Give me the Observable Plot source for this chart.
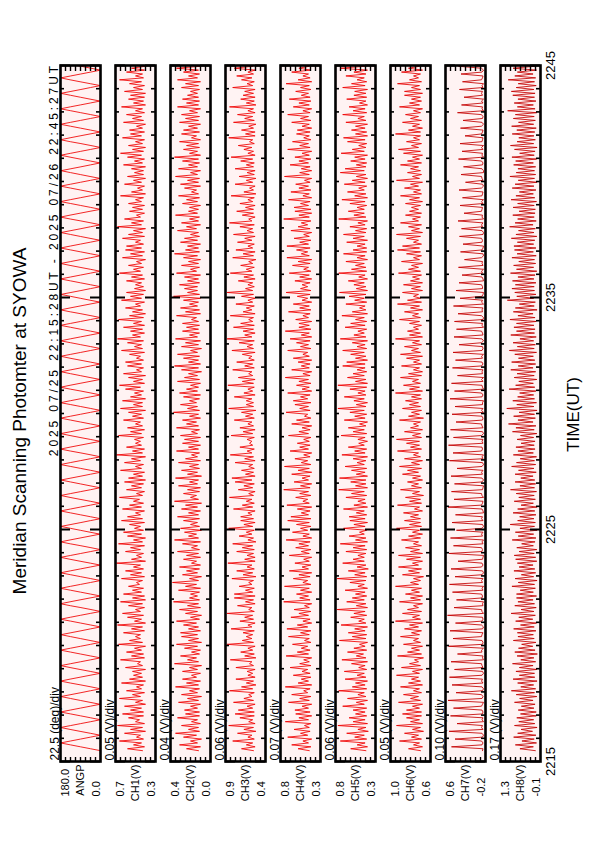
<!DOCTYPE html>
<html><head><meta charset="utf-8">
<script src="https://cdn.jsdelivr.net/npm/d3@7"></script>
<script src="https://cdn.jsdelivr.net/npm/@observablehq/plot@0.6"></script>
<style>
html,body{margin:0;padding:0;width:595px;height:842px;overflow:hidden;background:#fff;}
#land{position:absolute;left:0;top:842px;width:842px;height:595px;transform-origin:0 0;transform:rotate(-90deg);font-family:"Liberation Sans",Arial,Helvetica,sans-serif;}
.panel{position:absolute;left:0;}
#title{position:absolute;left:0;width:842px;top:9px;text-align:center;font-size:19px;color:#000;}
#range{position:absolute;right:63px;top:48px;font-size:12px;line-height:12px;letter-spacing:2.9px;white-space:nowrap;color:#000;}
</style></head><body>
<div id="land"><div id="title">Meridian Scanning Photomter at SYOWA</div><div id="range"></div></div>
<script>
// ---- data ----
const startTime = "2025-07-25T22:15:28Z";
const stepSeconds = 5;
const timeDomain = ["2025-07-25T22:15:00Z", "2025-07-25T22:45:00Z"];
const timeTickLabels = ["2215", "2225", "2235", "2245"];
const rangeText = "2025 07/25 22:15:28UT - 2025 07/26 22:45:27UT";

const names = ["ANGP","CH1(V)","CH2(V)","CH3(V)","CH4(V)","CH5(V)","CH6(V)","CH7(V)","CH8(V)"];
const maxLabels = ["180.0","0.7","0.4","0.9","0.8","0.8","1.0","0.6","1.3"];
const minLabels = ["0.0","0.3","0.0","0.4","0.3","0.3","0.6","-0.2","-0.1"];
const divLabels = ["22.5 (deg)/div","0.05 (V)/div","0.04 (V)/div","0.06 (V)/div","0.07 (V)/div","0.06 (V)/div","0.05 (V)/div","0.10 (V)/div","0.17 (V)/div"];
const lineColors = ["#f00000","#f00000","#f00000","#f00000","#f00000","#f00000","#e60000","#c40000","#c40000"];

const angp = [
0,45,90,135,180,135,90,45, 1,46,92,137,179,134,89,44, 0,44,89,134,180,136,91,46,
2,47,91,135,178,133,88,45, 0,43,88,136,180,137,92,47, 1,46,92,137,179,134,89,44,
0,45,90,135,180,135,90,45, 2,47,91,135,178,133,88,45, 0,44,89,134,180,136,91,46,
0,43,88,136,180,137,92,47, 0,45,90,135,180,135,90,45, 0,44,89,134,180,136,91,46,
1,46,92,137,179,134,89,44, 0,43,88,136,180,137,92,47, 2,47,91,135,178,133,88,45,
0,45,90,135,180,135,90,45, 1,46,92,137,179,134,89,44, 2,47,91,135,178,133,88,45,
0,44,89,134,180,136,91,46, 0,43,88,136,180,137,92,47, 1,46,92,137,179,134,89,44,
0,45,90,135,180,135,90,45, 0,44,89,134,180,136,91,46, 0,43,88,136,180,137,92,47,
2,47,91,135,178,133,88,45, 1,46,92,137,179,134,89,44, 0,44,89,134,180,136,91,46,
0,45,90,135,180,135,90,45, 0,43,88,136,180,137,92,47, 2,47,91,135,178,133,88,45,
0,45,90,135,180,135,90,45, 1,46,92,137,179,134,89,44, 0,44,89,134,180,136,91,46,
2,47,91,135,178,133,88,45, 0,43,88,136,180,137,92,47, 0,44,89,134,180,136,91,46,
0,45,90,135,180,135,90,45, 2,47,91,135,178,133,88,45, 1,46,92,137,179,134,89,44,
0,43,88,136,180,137,92,47, 0,45,90,135,180,135,90,45, 0,44,89,134,180,136,91,46,
2,47,91,135,178,133,88,45, 1,46,92,137,179,134,89,44, 0,43,88,136,180,137,92,47
];
const ch1 = [
.43,.58,.41,.52,.44,.66,.42,.49,.45,.61,.40,.55,.43,.68,.41,.50,.46,.57,.42,.63,
.42,.55,.44,.61,.40,.50,.43,.66,.45,.53,.41,.59,.44,.49,.42,.64,.40,.56,.43,.52,
.44,.53,.40,.60,.43,.48,.45,.65,.41,.54,.42,.59,.44,.51,.40,.67,.43,.56,.45,.50,
.45,.62,.41,.54,.43,.68,.40,.51,.44,.58,.42,.63,.45,.50,.41,.57,.43,.65,.40,.53,
.41,.62,.44,.53,.42,.57,.46,.49,.43,.64,.41,.55,.44,.60,.42,.52,.45,.69,.40,.54,
.44,.49,.42,.60,.45,.55,.41,.67,.43,.52,.40,.58,.44,.62,.42,.51,.45,.56,.41,.64,
.43,.58,.45,.50,.41,.63,.44,.56,.42,.52,.46,.66,.43,.49,.41,.59,.44,.54,.42,.61,
.40,.57,.43,.52,.41,.65,.44,.50,.42,.61,.45,.54,.40,.69,.43,.53,.41,.59,.44,.50,
.45,.51,.42,.67,.44,.55,.41,.58,.43,.50,.45,.62,.42,.53,.44,.57,.40,.65,.43,.52,
.43,.63,.40,.55,.44,.51,.42,.60,.45,.66,.41,.52,.43,.57,.40,.62,.44,.49,.42,.58,
.44,.60,.42,.49,.45,.56,.41,.64,.43,.51,.44,.58,.42,.68,.45,.53,.41,.55,.43,.62,
.41,.52,.44,.67,.42,.56,.40,.53,.43,.60,.45,.50,.41,.64,.44,.55,.42,.59,.40,.51,
.42,.50,.44,.59,.41,.54,.43,.66,.45,.52,.42,.57,.44,.49,.40,.63,.43,.55,.41,.60,
.44,.59,.42,.50,.45,.63,.41,.57,.43,.52,.40,.68,.44,.54,.42,.61,.45,.49,.41,.56,
.43,.53,.41,.57,.44,.50,.42,.65,.40,.54,.43,.48,.41,.61,.44,.52,.40,.58,.42,.51,
.42,.54,.40,.62,.43,.51,.41,.58,.44,.65,.42,.53,.40,.57,.43,.50,.41,.63,.44,.55,
.41,.56,.43,.49,.40,.62,.42,.53,.44,.59,.41,.50,.43,.64,.40,.52,.42,.57,.41,.55,
.40,.61,.43,.52,.41,.56,.44,.66,.42,.50,.43,.59,.41,.54,.40,.62,.43,.51,.42,.57
];
const ch2 = [
.12,.24,.10,.31,.13,.20,.09,.27,.14,.35,.11,.22,.12,.29,.10,.19,.13,.33,.11,.25,
.11,.26,.13,.20,.10,.32,.12,.23,.09,.29,.13,.21,.11,.35,.12,.24,.10,.28,.14,.19,
.10,.28,.13,.21,.09,.36,.12,.23,.14,.30,.11,.19,.10,.26,.13,.34,.09,.22,.12,.29,
.13,.30,.10,.22,.12,.27,.14,.34,.11,.20,.09,.25,.13,.31,.10,.23,.12,.37,.11,.21,
.13,.20,.11,.32,.10,.25,.14,.38,.12,.21,.09,.28,.13,.24,.11,.31,.10,.19,.14,.27,
.10,.24,.12,.33,.11,.19,.13,.28,.10,.36,.12,.22,.14,.26,.09,.30,.11,.20,.13,.27,
.11,.33,.12,.22,.10,.29,.13,.25,.09,.36,.12,.20,.14,.27,.11,.23,.10,.32,.13,.21,
.12,.35,.09,.23,.13,.29,.11,.21,.12,.32,.10,.25,.13,.19,.11,.34,.12,.22,.10,.28,
.12,.26,.10,.30,.13,.19,.11,.34,.12,.24,.14,.28,.10,.21,.12,.37,.11,.23,.13,.30,
.14,.21,.11,.27,.10,.31,.13,.24,.12,.20,.10,.33,.11,.26,.13,.22,.09,.29,.12,.36,
.10,.22,.12,.27,.11,.33,.13,.20,.09,.29,.12,.25,.10,.35,.13,.21,.11,.28,.12,.24,
.11,.28,.12,.19,.14,.34,.10,.25,.11,.30,.13,.21,.12,.27,.10,.37,.11,.23,.13,.26,
.13,.31,.11,.23,.12,.26,.10,.34,.14,.20,.11,.29,.12,.22,.10,.27,.13,.36,.11,.25,
.12,.23,.10,.30,.13,.26,.11,.20,.12,.33,.14,.24,.10,.29,.12,.21,.11,.35,.13,.22,
.12,.21,.10,.28,.13,.24,.11,.32,.12,.19,.14,.26,.10,.30,.12,.23,.11,.35,.13,.20,
.10,.32,.13,.22,.11,.28,.12,.36,.10,.21,.13,.27,.11,.24,.12,.31,.10,.19,.14,.29,
.11,.27,.13,.22,.10,.31,.12,.25,.11,.29,.13,.21,.10,.33,.12,.24,.11,.28,.12,.23,
.13,.20,.11,.29,.12,.25,.10,.33,.13,.22,.11,.27,.12,.34,.10,.23,.13,.30,.11,.24
];
const ch3 = [
.55,.70,.53,.64,.56,.81,.54,.62,.57,.75,.52,.67,.55,.86,.53,.61,.56,.72,.54,.78,
.54,.74,.56,.63,.53,.80,.55,.67,.57,.61,.54,.85,.56,.70,.52,.64,.55,.77,.53,.62,
.56,.63,.53,.77,.55,.60,.57,.84,.52,.66,.54,.71,.56,.62,.53,.88,.55,.69,.57,.64,
.56,.68,.54,.83,.57,.62,.53,.72,.55,.66,.56,.88,.54,.61,.57,.75,.53,.65,.55,.79,
.53,.79,.56,.65,.54,.73,.57,.61,.55,.82,.52,.68,.56,.76,.54,.63,.57,.87,.53,.66,
.53,.63,.55,.76,.54,.69,.56,.81,.52,.62,.55,.73,.57,.64,.54,.86,.56,.67,.53,.71,
.55,.71,.57,.62,.53,.80,.56,.69,.54,.64,.57,.85,.55,.61,.53,.74,.56,.67,.54,.78,
.57,.82,.53,.65,.55,.70,.54,.61,.56,.78,.53,.66,.55,.84,.57,.63,.54,.72,.56,.60,
.57,.63,.54,.83,.56,.68,.53,.72,.55,.62,.57,.79,.54,.65,.56,.70,.52,.86,.55,.64,
.55,.64,.57,.79,.53,.67,.56,.62,.54,.87,.55,.69,.53,.74,.56,.61,.57,.81,.54,.66,
.56,.76,.54,.61,.57,.69,.53,.82,.55,.63,.56,.73,.54,.88,.57,.66,.53,.68,.55,.80,
.54,.71,.56,.61,.55,.84,.53,.68,.57,.64,.54,.77,.56,.62,.53,.70,.55,.88,.56,.65,
.54,.62,.56,.74,.53,.67,.55,.84,.57,.64,.54,.71,.56,.61,.52,.81,.55,.68,.53,.77,
.56,.62,.54,.75,.57,.66,.53,.80,.55,.63,.56,.72,.54,.85,.57,.61,.53,.69,.55,.76,
.55,.65,.53,.72,.56,.62,.54,.83,.52,.67,.55,.60,.53,.78,.56,.64,.52,.73,.54,.63,
.53,.78,.55,.64,.54,.71,.56,.83,.53,.62,.55,.67,.57,.74,.54,.60,.56,.86,.53,.65,
.53,.70,.55,.61,.52,.80,.54,.66,.56,.75,.53,.62,.55,.85,.52,.64,.54,.71,.53,.68,
.55,.66,.53,.81,.56,.63,.54,.70,.57,.76,.55,.62,.53,.79,.56,.68,.54,.64,.55,.73
];
const ch4 = [
.44,.58,.42,.66,.45,.52,.41,.71,.46,.55,.43,.63,.44,.50,.42,.74,.45,.57,.41,.61,
.43,.62,.45,.53,.41,.70,.44,.56,.42,.66,.46,.51,.43,.74,.41,.58,.45,.54,.42,.64,
.43,.53,.46,.68,.42,.56,.44,.51,.41,.73,.45,.59,.43,.54,.46,.65,.42,.50,.44,.70,
.44,.55,.42,.72,.46,.59,.41,.52,.43,.67,.45,.57,.42,.63,.44,.50,.41,.76,.43,.56,
.45,.60,.41,.55,.44,.75,.42,.52,.46,.64,.43,.57,.41,.69,.45,.53,.42,.62,.44,.51,
.41,.69,.44,.54,.42,.61,.45,.57,.43,.73,.41,.52,.44,.65,.46,.55,.42,.60,.44,.71,
.42,.67,.45,.54,.43,.59,.41,.72,.44,.52,.46,.61,.42,.56,.45,.76,.43,.55,.41,.63,
.45,.53,.43,.66,.41,.58,.44,.75,.42,.54,.46,.62,.43,.51,.41,.68,.45,.56,.43,.59,
.44,.51,.42,.70,.45,.57,.43,.53,.41,.66,.44,.60,.42,.50,.46,.73,.43,.56,.45,.62,
.42,.64,.46,.55,.43,.71,.41,.53,.44,.60,.42,.57,.45,.74,.43,.52,.41,.66,.44,.54,
.43,.58,.41,.64,.44,.52,.46,.71,.42,.55,.45,.60,.43,.68,.41,.54,.44,.74,.42,.57,
.44,.57,.41,.61,.45,.52,.43,.70,.42,.56,.44,.64,.41,.53,.46,.59,.43,.73,.42,.55,
.46,.53,.43,.62,.41,.56,.44,.69,.42,.51,.45,.65,.43,.58,.41,.72,.44,.54,.46,.60,
.43,.72,.45,.56,.42,.63,.44,.51,.41,.67,.43,.58,.46,.54,.42,.76,.44,.57,.41,.62,
.42,.63,.45,.55,.43,.70,.41,.52,.44,.67,.42,.57,.45,.61,.43,.50,.41,.75,.44,.56,
.41,.54,.43,.68,.45,.57,.42,.62,.44,.53,.41,.71,.43,.56,.45,.65,.42,.51,.44,.60,
.43,.59,.41,.53,.44,.66,.42,.55,.45,.71,.43,.52,.41,.64,.44,.57,.42,.69,.43,.54,
.45,.61,.42,.55,.44,.73,.41,.58,.43,.52,.45,.66,.42,.57,.44,.63,.41,.54,.43,.70
];
const ch5 = [
.42,.61,.40,.53,.43,.74,.41,.56,.44,.66,.39,.52,.42,.77,.40,.58,.43,.63,.41,.55,
.43,.58,.41,.71,.44,.54,.40,.65,.42,.52,.44,.76,.41,.59,.43,.55,.40,.68,.42,.53,
.44,.69,.41,.51,.43,.60,.40,.72,.42,.54,.45,.65,.41,.57,.43,.50,.40,.75,.42,.59,
.41,.64,.43,.56,.40,.73,.42,.51,.44,.61,.41,.57,.43,.78,.40,.54,.42,.66,.44,.59,
.41,.55,.43,.68,.40,.52,.44,.62,.42,.78,.41,.56,.43,.64,.39,.53,.42,.71,.44,.58,
.44,.52,.42,.67,.41,.58,.43,.74,.40,.55,.42,.63,.44,.50,.41,.70,.43,.57,.40,.62,
.43,.63,.41,.54,.44,.70,.40,.57,.42,.52,.43,.67,.41,.60,.44,.76,.40,.55,.42,.61,
.42,.75,.40,.54,.43,.60,.41,.68,.44,.53,.42,.58,.40,.72,.43,.56,.41,.64,.44,.51,
.40,.52,.43,.73,.41,.58,.44,.64,.42,.50,.40,.69,.43,.56,.41,.62,.44,.77,.42,.54,
.40,.57,.44,.69,.42,.52,.43,.62,.41,.77,.40,.55,.42,.65,.44,.58,.41,.53,.43,.71,
.43,.66,.40,.55,.42,.61,.44,.71,.41,.53,.43,.59,.40,.74,.42,.57,.44,.52,.41,.68,
.43,.61,.41,.55,.44,.72,.40,.59,.42,.50,.43,.67,.41,.56,.44,.63,.42,.75,.40,.54,
.42,.57,.44,.64,.40,.51,.43,.76,.41,.60,.42,.55,.44,.67,.40,.53,.43,.70,.41,.58,
.41,.53,.43,.66,.40,.58,.44,.70,.42,.55,.41,.62,.43,.52,.40,.76,.42,.57,.44,.64,
.44,.53,.41,.62,.43,.72,.40,.56,.42,.65,.44,.51,.41,.69,.43,.59,.40,.54,.42,.74,
.44,.68,.42,.54,.41,.61,.43,.56,.40,.73,.44,.59,.42,.51,.41,.65,.43,.70,.40,.55,
.41,.60,.43,.55,.40,.67,.42,.52,.44,.71,.41,.58,.43,.63,.40,.50,.42,.66,.41,.57,
.42,.56,.40,.71,.43,.60,.41,.53,.44,.67,.42,.57,.40,.74,.43,.52,.41,.62,.44,.58
];
const ch6 = [
.70,.82,.68,.77,.71,.91,.69,.79,.72,.86,.67,.78,.70,.94,.68,.80,.71,.84,.69,.88,
.69,.84,.71,.78,.68,.92,.70,.80,.72,.87,.69,.77,.71,.90,.68,.82,.70,.79,.72,.94,
.71,.78,.68,.89,.70,.81,.72,.76,.67,.93,.69,.83,.71,.79,.68,.87,.70,.77,.72,.90,
.71,.79,.69,.86,.72,.81,.68,.95,.70,.78,.71,.88,.69,.83,.72,.77,.68,.91,.70,.80,
.68,.85,.71,.79,.69,.95,.72,.80,.70,.77,.67,.88,.71,.82,.69,.92,.72,.78,.68,.84,
.70,.92,.68,.80,.71,.85,.69,.77,.72,.89,.70,.82,.68,.78,.71,.94,.69,.81,.70,.86,
.70,.80,.72,.87,.68,.76,.71,.93,.69,.81,.70,.85,.67,.78,.71,.90,.69,.79,.72,.83,
.68,.78,.70,.88,.72,.83,.69,.91,.71,.79,.68,.86,.70,.77,.72,.93,.69,.80,.71,.84,
.71,.94,.69,.78,.70,.86,.68,.80,.72,.77,.70,.91,.67,.82,.71,.79,.69,.88,.70,.81,
.72,.85,.69,.79,.70,.95,.68,.81,.71,.87,.70,.78,.72,.90,.69,.82,.68,.77,.71,.89,
.69,.77,.71,.84,.68,.90,.70,.79,.72,.86,.69,.78,.71,.95,.68,.81,.70,.83,.72,.77,
.69,.81,.71,.91,.70,.78,.72,.86,.68,.80,.71,.93,.69,.83,.70,.77,.72,.88,.68,.79,
.70,.87,.68,.80,.71,.78,.69,.92,.70,.82,.72,.79,.68,.89,.71,.77,.69,.84,.70,.93,
.71,.88,.69,.77,.72,.84,.70,.94,.68,.79,.71,.82,.69,.90,.72,.78,.70,.85,.69,.81,
.72,.79,.70,.85,.68,.81,.71,.90,.69,.77,.70,.86,.72,.80,.68,.94,.71,.78,.69,.83,
.70,.80,.72,.90,.69,.83,.71,.78,.68,.87,.70,.92,.72,.79,.69,.84,.71,.77,.70,.95,
.70,.82,.68,.78,.71,.88,.69,.80,.72,.85,.70,.77,.68,.91,.71,.81,.69,.79,.70,.86,
.68,.86,.70,.79,.71,.93,.69,.81,.72,.77,.70,.89,.68,.82,.71,.85,.69,.78,.72,.91
];
const ch7 = [
-.14,-.15,.48,-.13,-.15,-.12,.41,-.14,-.16,-.13,.53,-.15,-.12,-.14,.37,-.16,-.13,-.15,.50,-.14,
-.15,-.13,.44,-.12,-.14,-.16,.55,-.13,-.15,-.12,.39,-.14,-.16,-.13,.47,-.15,-.12,-.14,.52,-.13,
-.16,-.14,.42,-.15,-.13,-.12,.49,-.16,-.14,-.15,.36,-.13,-.12,-.16,.54,-.14,-.15,-.13,.45,-.12,
-.13,-.15,.51,-.14,-.16,-.12,.40,-.13,-.15,-.14,.56,-.16,-.13,-.12,.43,-.15,-.14,-.16,.38,-.13,
-.14,-.12,.46,-.15,-.13,-.16,.52,-.14,-.12,-.15,.41,-.13,-.16,-.14,.49,-.12,-.15,-.13,.35,-.14,
-.15,-.16,.53,-.13,-.14,-.12,.44,-.15,-.13,-.16,.50,-.14,-.12,-.15,.38,-.13,-.16,-.14,.47,-.15,
-.12,-.14,.40,-.16,-.15,-.13,.55,-.12,-.14,-.15,.43,-.16,-.13,-.12,.48,-.14,-.15,-.16,.42,-.13,
-.16,-.13,.49,-.14,-.12,-.15,.37,-.13,-.16,-.14,.52,-.15,-.13,-.16,.45,-.12,-.14,-.13,.54,-.15,
-.13,-.15,.44,-.12,-.16,-.14,.50,-.15,-.13,-.12,.39,-.14,-.15,-.13,.47,-.16,-.12,-.15,.41,-.14,
-.14,-.16,.51,-.13,-.15,-.12,.42,-.16,-.14,-.13,.48,-.15,-.12,-.16,.36,-.14,-.13,-.15,.46,-.12,
-.15,-.13,.40,-.14,-.12,-.16,.45,-.13,-.15,-.14,.33,-.12,-.16,-.13,.43,-.15,-.14,-.12,.38,-.16,
-.13,-.14,.42,-.15,-.16,-.12,.35,-.14,-.13,-.15,.44,-.16,-.12,-.14,.31,-.13,-.15,-.16,.39,-.14,
-.14,-.12,.33,-.16,-.15,-.13,.27,-.14,-.12,-.16,.34,-.15,-.13,-.14,.22,-.12,-.16,-.15,.30,-.13,
-.15,-.16,.25,-.13,-.14,-.12,.32,-.15,-.16,-.13,.28,-.14,-.12,-.15,.35,-.16,-.13,-.14,.23,-.12,
-.13,-.14,.31,-.15,-.12,-.16,.26,-.13,-.14,-.15,.33,-.12,-.16,-.14,.20,-.15,-.13,-.12,.29,-.16,
-.16,-.13,.24,-.14,-.15,-.12,.34,-.16,-.13,-.14,.27,-.15,-.12,-.16,.31,-.13,-.14,-.15,.21,-.12,
-.14,-.15,.30,-.12,-.16,-.13,.25,-.14,-.15,-.12,.36,-.16,-.13,-.14,.28,-.15,-.12,-.16,.23,-.14,
-.12,-.14,.32,-.15,-.13,-.16,.26,-.12,-.14,-.15,.29,-.13,-.16,-.12,.34,-.14,-.15,-.13,.24,-.16
];
const ch8 = [
.08,.62,.15,.78,.04,.55,.12,.84,.06,.70,.18,.58,.02,.81,.10,.66,.14,.73,.05,.60,
.05,.68,.13,.57,.09,.81,.16,.63,.03,.75,.11,.92,.07,.59,.14,.70,.02,.86,.10,.64,
.11,.76,.03,.64,.16,.88,.07,.59,.13,.72,.01,.80,.09,.67,.17,.56,.06,.85,.12,.69,
.15,.71,.06,.84,.12,.60,.04,.77,.17,.66,.08,.93,.13,.58,.05,.80,.11,.69,.16,.74,
.04,.74,.15,.61,.08,.90,.11,.68,.02,.79,.14,.57,.07,.83,.10,.65,.16,.71,.03,.77,
.07,.82,.12,.65,.03,.73,.15,.56,.09,.89,.06,.68,.14,.78,.02,.62,.11,.96,.08,.70,
.13,.63,.06,.86,.10,.70,.02,.58,.15,.82,.08,.66,.12,.75,.04,.95,.11,.62,.07,.79,
.10,.59,.16,.79,.05,.67,.13,.91,.07,.74,.11,.61,.04,.85,.15,.69,.09,.76,.12,.58,
.09,.72,.14,.60,.03,.88,.12,.76,.06,1.02,.16,.69,.08,.84,.11,.65,.02,1.08,.13,.73,
.04,.87,.11,.70,.14,.63,.06,1.00,.10,.77,.15,.66,.03,.82,.12,.72,.07,.94,.16,.68,
.07,.91,.10,.67,.15,.80,.04,.99,.12,.71,.08,.86,.14,.62,.05,.94,.11,.74,.09,.83,
.13,.74,.05,.97,.09,.69,.16,.85,.02,.78,.12,.64,.08,1.06,.14,.73,.06,.80,.11,.90,
.12,.78,.06,.88,.13,.69,.09,.95,.03,.74,.14,.84,.07,.66,.11,.90,.05,.72,.15,.81,
.06,.83,.14,.71,.10,.92,.03,.76,.13,.67,.08,.98,.16,.79,.05,.70,.12,.87,.09,.65,
.08,.86,.12,.70,.04,.93,.10,.76,.15,.64,.06,.89,.13,.79,.02,.68,.11,.97,.07,.75,
.11,.69,.07,.84,.15,.77,.04,.90,.12,.63,.09,.81,.02,.95,.14,.72,.08,.66,.13,.89,
.10,.73,.05,.91,.14,.67,.08,.85,.12,.78,.03,1.05,.09,.71,.15,.82,.06,.69,.11,.87,
.09,.92,.13,.75,.05,.68,.11,1.03,.07,.80,.16,.71,.04,.86,.10,.64,.14,.99,.06,.77
];
const series = [angp, ch1, ch2, ch3, ch4, ch5, ch6, ch7, ch8];

// ---- layout ----
const font = "Liberation Sans, Arial, Helvetica, sans-serif";
const x0 = new Date(timeDomain[0]), x1 = new Date(timeDomain[1]);
const t0 = +new Date(startTime);
const minutes = d3.utcMinute.range(x0, new Date(+x1 + 1));
const majors = minutes.filter(d => d.getUTCMinutes() % 10 === 5);
const minors = minutes.filter(d => d.getUTCMinutes() % 10 !== 5);
const PH = 40, MT = 15, ML = 80, MR = 66, W = 842;
const land = document.getElementById("land");
document.getElementById("range").textContent = rangeText;

series.forEach((vals, i) => {
  const lo = +minLabels[i], hi = +maxLabels[i];
  const data = vals.map((v, k) => ({t: new Date(t0 + k * stepSeconds * 1000), v}));
  const vt = d3.range(1, 8).map(k => lo + k * (hi - lo) / 8);
  const last = i === series.length - 1;
  const MB = last ? 55 : 0;
  const marks = [
    Plot.frame({fill: "#fff3f3", stroke: null}),
    Plot.line(data, {x: "t", y: "v", stroke: lineColors[i], strokeWidth: 0.85, clip: true}),
    Plot.tickX(minors, {x: d => d, insetBottom: PH - 4, stroke: "#000", strokeWidth: 1.6}),
    Plot.tickX(minors, {x: d => d, insetTop: PH - 4, stroke: "#000", strokeWidth: 1.6}),
    Plot.tickX(majors, {x: d => d, insetBottom: PH - 10, stroke: "#000", strokeWidth: 2}),
    Plot.tickX(majors, {x: d => d, insetTop: PH - 10, stroke: "#000", strokeWidth: 2}),
    Plot.tickY(vt, {y: d => d, insetRight: W - ML - MR - 5, stroke: "#000", strokeWidth: 1.4}),
    Plot.tickY(vt, {y: d => d, insetLeft: W - ML - MR - 5, stroke: "#000", strokeWidth: 1.4}),
    Plot.frame({stroke: "#000", strokeWidth: 2.6}),
    Plot.text([maxLabels[i]], {text: d => d, frameAnchor: "top-left", dx: -35, dy: 1, textAnchor: "start", lineAnchor: "top", fontSize: 11, fill: "#000"}),
    Plot.text([names[i]], {text: d => d, frameAnchor: "left", dx: -3, textAnchor: "end", lineAnchor: "middle", fontSize: 11, fill: "#000"}),
    Plot.text([minLabels[i]], {text: d => d, frameAnchor: "bottom-left", dx: -35, dy: -1, textAnchor: "start", lineAnchor: "bottom", fontSize: 11, fill: "#000"}),
    Plot.text([divLabels[i]], {text: d => d, frameAnchor: "top-left", dx: 1, dy: -2, textAnchor: "start", lineAnchor: "bottom", fontSize: 12, fill: "#000"})
  ];
  if (last) {
    marks.push(Plot.axisX(majors, {tickSize: 0, tickPadding: 5, tickFormat: (d, k) => timeTickLabels[k], fontSize: 13, label: null}));
    marks.push(Plot.text(["TIME(UT)"], {text: d => d, frameAnchor: "bottom", dx: -1, dy: 33, lineAnchor: "middle", fontSize: 17, fill: "#000"}));
  }
  const svg = Plot.plot({
    width: W, height: MT + PH + MB,
    marginLeft: ML, marginRight: MR, marginTop: MT, marginBottom: MB,
    x: {type: "utc", domain: [x0, x1], axis: null},
    y: {domain: [lo, hi], axis: null},
    style: {fontFamily: font, background: "transparent", color: "#000", overflow: "visible"},
    marks
  });
  const div = document.createElement("div");
  div.className = "panel";
  div.style.top = (60 + 55 * i - MT) + "px";
  div.appendChild(svg);
  land.appendChild(div);
});
</script>
</body></html>
